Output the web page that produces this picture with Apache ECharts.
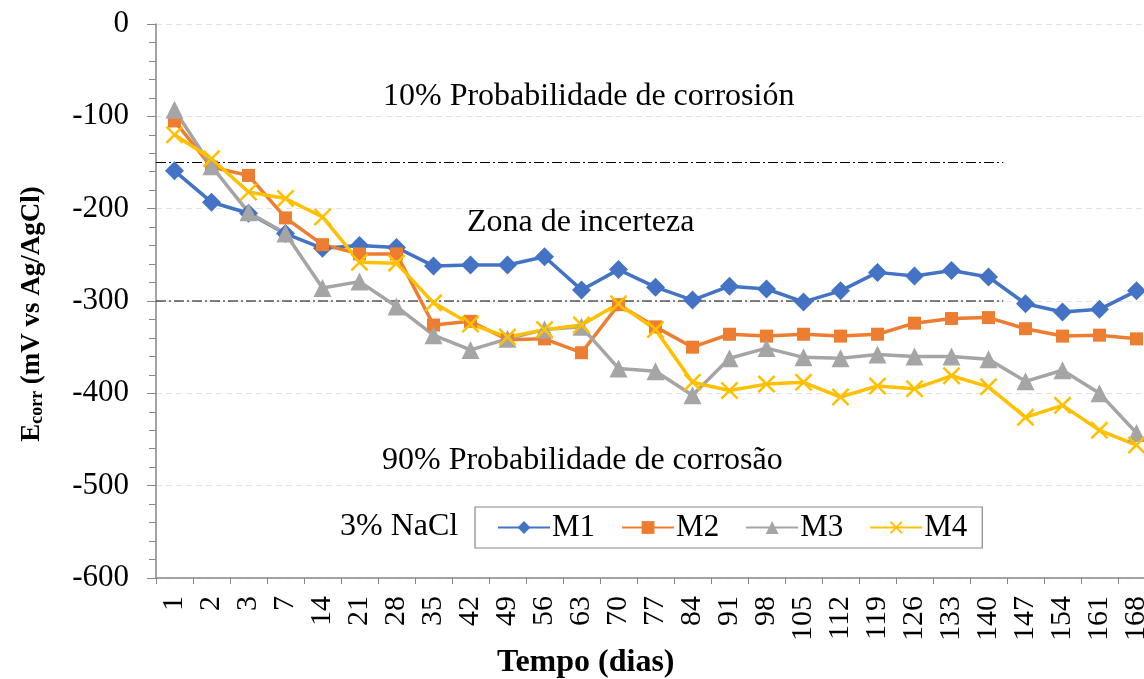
<!DOCTYPE html>
<html>
<head>
<meta charset="utf-8">
<script src="https://cdn.jsdelivr.net/npm/echarts@6/dist/echarts.min.js"></script>
<style>
  html, body { margin: 0; padding: 0; background: #fff; }
  #chart { width: 1144px; height: 679px; }
</style>
</head>
<body>
<div id="chart"></div>
<script>
// dias de ensaio
var dias = ['1','2','3','7','14','21','28','35','42','49','56','63','70','77','84','91','98','105','112','119','126','133','140','147','154','161','168'];

// potenciais de corrosão (mV vs Ag/AgCl)
var m1 = [-159,-193,-205,-227,-243,-240,-242,-262,-261,-261,-252,-288,-266,-285,-299,-284,-287,-301,-289,-269,-273,-267,-274,-303,-312,-309,-289];
var m2 = [-105,-155,-164,-210,-239,-249,-249,-326,-322,-342,-341,-356,-304,-328,-350,-336,-338,-336,-338,-336,-324,-319,-318,-330,-338,-337,-341];
var m3 = [-93,-154,-204,-227,-286,-279,-306,-337,-353,-341,-331,-328,-373,-376,-402,-362,-351,-361,-362,-358,-360,-360,-363,-387,-375,-400,-443];
var m4 = [-120,-146,-182,-189,-209,-258,-259,-302,-325,-339,-331,-326,-303,-331,-388,-397,-390,-388,-404,-392,-395,-381,-393,-426,-413,-440,-456];

// limites ASTM C876 (linhas traço-ponto)
var limites = [-150, -300];
var limiteFim = 22.4; // termina perto do dia 140/147

var fonte = '"Liberation Serif", "Times New Roman", serif';

var myChart = echarts.init(document.getElementById('chart'));

function serie(nome, dados, cor, simbolo, tam) {
  return {
    name: nome,
    type: 'line',
    data: dados,
    symbol: simbolo,
    symbolSize: tam,
    lineStyle: { color: cor, width: 3.5 },
    itemStyle: { color: cor },
    z: 3
  };
}

var xis = 'path://M0,1 L1,0 L5,4 L9,0 L10,1 L6,5 L10,9 L9,10 L5,6 L1,10 L0,9 L4,5 Z';

var series = [
  serie('M1', m1, '#4472C4', 'diamond', 19),
  serie('M2', m2, '#ED7D31', 'rect', 13),
  serie('M3', m3, '#A5A5A5', 'triangle', 18),
  serie('M4', m4, '#FFC000', xis, 18)
];

limites.forEach(function (v) {
  series.push({
    type: 'line',
    xAxisIndex: 1,
    data: [[-0.5, v], [limiteFim, v]],
    symbol: 'none',
    silent: true,
    lineStyle: { color: '#000', width: 1, type: [10, 3, 2, 3] },
    z: 2
  });
});

var option = {
  backgroundColor: '#fff',
  animation: false,
  textStyle: { fontFamily: fonte },
  grid: { left: 156, top: 24, width: 999, bottom: 101, outerBoundsMode: 'none', containLabel: false },
  legend: {
    data: ['M1', 'M2', 'M3', 'M4'],
    left: 475,
    top: 507,
    padding: [5, 15, 5, 22],
    itemWidth: 52,
    itemHeight: 16,
    itemGap: 26,
    borderColor: '#888',
    borderWidth: 1.2,
    backgroundColor: '#fff',
    textStyle: { fontFamily: fonte, fontSize: 31, color: '#000', padding: [0, 0, 0, -3] }
  },
  xAxis: [{
    type: 'category',
    data: dias,
    boundaryGap: true,
    axisLine: { onZero: false, lineStyle: { color: '#868686', width: 1.5 } },
    axisTick: { show: true, length: 6, alignWithLabel: false, lineStyle: { color: '#868686' } },
    axisLabel: { rotate: 90, fontFamily: fonte, fontSize: 30, color: '#000', margin: 18, interval: 0 },
    splitLine: { show: false }
  }, {
    type: 'value',
    min: -0.5,
    max: 26.5,
    show: false
  }],
  yAxis: {
    type: 'value',
    min: -600,
    max: 0,
    interval: 100,
    axisLine: { show: true, onZero: false, lineStyle: { color: '#868686', width: 1.5 } },
    axisTick: { show: true, length: 9, lineStyle: { color: '#868686' } },
    minorTick: { show: true, splitNumber: 5, length: 7, lineStyle: { color: '#868686' } },
    axisLabel: { fontFamily: fonte, fontSize: 31, color: '#000', margin: 27 },
    splitLine: { show: true, lineStyle: { color: '#e3e3e3', type: [6, 4], width: 1 } }
  },
  graphic: [
    { type: 'text', left: 383, top: 81, style: { text: '10% Probabilidade de corrosión', font: '32px ' + fonte, fill: '#000' } },
    { type: 'text', left: 467, top: 207, style: { text: 'Zona de incerteza', font: '32px ' + fonte, fill: '#000' } },
    { type: 'text', left: 382, top: 445, style: { text: '90% Probabilidade de corrosão', font: '32px ' + fonte, fill: '#000' } },
    { type: 'text', left: 340, top: 511, style: { text: '3% NaCl', font: '32px ' + fonte, fill: '#000' } },
    { type: 'text', left: 497, top: 647, style: { text: 'Tempo (dias)', font: 'bold 32px ' + fonte, fill: '#000' } },
    {
      type: 'text',
      x: 30,
      y: 314,
      rotation: Math.PI / 2,
      style: {
        text: '{b|E}{s|corr}{b| (mV vs Ag/AgCl)}',
        align: 'center',
        verticalAlign: 'middle',
        rich: {
          b: { fontFamily: fonte, fontSize: 27, fontWeight: 'bold', fill: '#000', verticalAlign: 'bottom', lineHeight: 32 },
          s: { fontFamily: fonte, fontSize: 18, fontWeight: 'bold', fill: '#000', verticalAlign: 'bottom', lineHeight: 26 }
        }
      }
    }
  ],
  series: series
};

myChart.setOption(option);
</script>
</body>
</html>
